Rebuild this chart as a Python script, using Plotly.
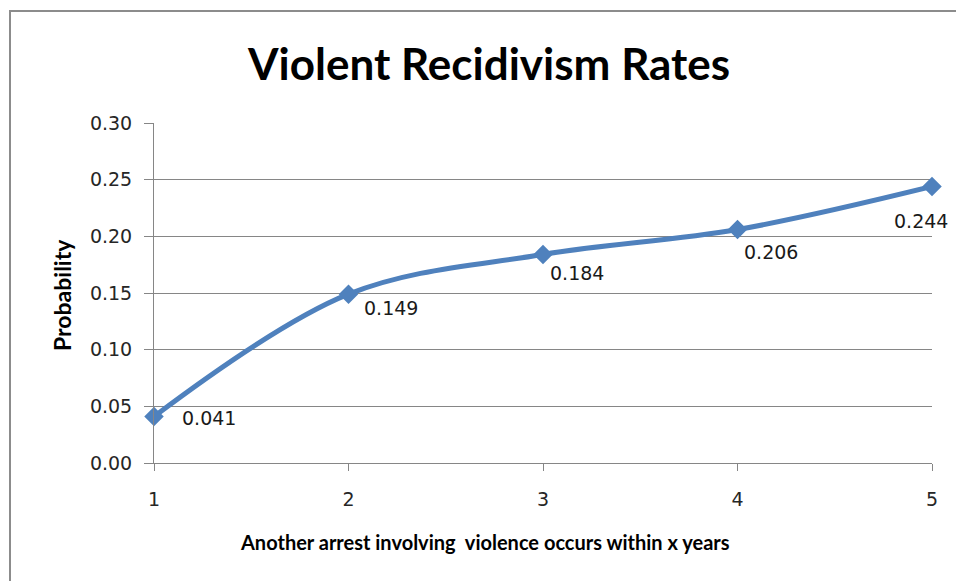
import plotly.graph_objects as go

years = [1, 2, 3, 4, 5]
probability = [0.041, 0.149, 0.184, 0.206, 0.244]
labels = ["0.041", "0.149", "0.184", "0.206", "0.244"]
y_ticks = [0.00, 0.05, 0.10, 0.15, 0.20, 0.25, 0.30]
y_tick_text = ["0.00", "0.05", "0.10", "0.15", "0.20", "0.25", "0.30"]

# label offsets in pixels (style)
label_dx = [26, 13, 5, 4, -40]
label_dy = [-1, -14, -19, -22, -35]

FONT = "Lato"
NUMFONT = "DejaVu Sans"
LINE = "#4F81BD"
GRID = "#868686"

W, H = 956, 581
L, R, T, B = 154, 24, 123, 118
pw = W - L - R
ph = H - T - B

fig = go.Figure()
fig.add_trace(go.Scatter(
    x=years, y=probability, mode="lines+markers",
    line=dict(color=LINE, width=5, shape="spline", smoothing=1.0),
    marker=dict(symbol="diamond", size=15, color=LINE),
    cliponaxis=False, showlegend=False, hoverinfo="skip",
))

for xv, yv, t, dx, dy in zip(years, probability, labels, label_dx, label_dy):
    fig.add_annotation(x=xv, y=yv, xref="x", yref="y", text=t, showarrow=False,
                       xanchor="left", yanchor="middle", xshift=dx, yshift=dy,
                       font=dict(family=NUMFONT, size=19, color="#1a1a1a"))

# title and axis titles
fig.add_annotation(x=(488 - L) / pw, y=1 + (T - 63) / ph, xref="paper", yref="paper",
                   text="<b>Violent Recidivism Rates</b>", showarrow=False,
                   xanchor="center", yanchor="middle",
                   font=dict(family=FONT, size=44, color="#000000"))
fig.add_annotation(x=(485 - L) / pw, y=-(542 - (T + ph)) / ph, xref="paper", yref="paper",
                   text="<b>Another arrest involving  violence occurs within x years</b>",
                   showarrow=False, xanchor="center", yanchor="middle",
                   font=dict(family=FONT, size=20, color="#000000"))
fig.add_annotation(x=(62 - L) / pw, y=1 - (295 - T) / ph, xref="paper", yref="paper",
                   text="<b>Probability</b>", showarrow=False, textangle=-90,
                   xanchor="center", yanchor="middle",
                   font=dict(family=FONT, size=23, color="#000000"))

# chart border
fig.add_shape(type="rect", xref="paper", yref="paper",
              x0=(10 - L) / pw, x1=(970 - L) / pw,
              y0=-(600 - (T + ph)) / ph, y1=1 + (T - 11) / ph,
              line=dict(color="#8c8c8c", width=2), fillcolor="rgba(0,0,0,0)", layer="below")

fig.update_layout(
    width=W, height=H,
    margin=dict(l=L, r=R, t=T, b=B),
    paper_bgcolor="white", plot_bgcolor="white",
    font=dict(family=NUMFONT, size=19, color="#262626"),
    xaxis=dict(range=[1, 5], tickvals=years, ticktext=[str(v) for v in years],
               showgrid=False, zeroline=False, showline=True, linecolor=GRID, linewidth=1,
               ticks="outside", ticklen=7, tickcolor=GRID, ticklabelstandoff=12,
               tickfont=dict(family=NUMFONT, size=19, color="#262626")),
    yaxis=dict(range=[0, 0.30], tickvals=y_ticks, ticktext=y_tick_text,
               showgrid=True, gridcolor=GRID, gridwidth=1, zeroline=False,
               showline=True, linecolor=GRID, linewidth=1,
               ticks="outside", ticklen=9, tickcolor=GRID, ticklabelstandoff=8,
               tickfont=dict(family=NUMFONT, size=19, color="#262626")),
)

fig.write_html("out.html")
